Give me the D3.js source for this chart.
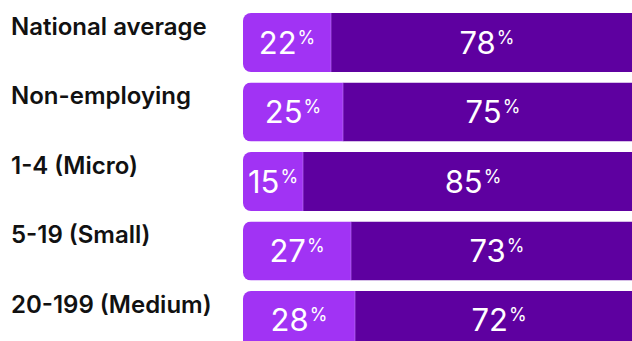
<!DOCTYPE html>
<html>
<head>
<meta charset="utf-8">
<script src="https://cdn.jsdelivr.net/npm/d3@7/dist/d3.min.js"></script>
<style>
  html, body { margin: 0; padding: 0; background: #ffffff; overflow: hidden; }
  svg { display: block; }
</style>
</head>
<body>
<svg id="chart" width="632" height="341"></svg>
<script>
// Business size groups and the split of each group into two shares (percent)
const categories = ["National average", "Non-employing", "1-4 (Micro)", "5-19 (Small)", "20-199 (Medium)"];
const firstShare = [22, 25, 15, 27, 28];
const secondShare = [78, 75, 85, 73, 72];

const colors = { first: "#a133f4", second: "#5e00a0", label: "#111111" };

const svg = d3.select("#chart");

const y = d3.scaleBand()
  .domain(categories)
  .range([13, 350])
  .paddingInner(0.151)
  .paddingOuter(0);

const x = d3.scaleLinear().domain([0, 100]).range([243, 643]);

const rows = categories.map((c, i) => ({ cat: c, a: firstShare[i], b: secondShare[i] }));

const clip = svg.append("defs");
rows.forEach((d, i) => {
  clip.append("clipPath").attr("id", "row-clip-" + i)
    .append("rect")
    .attr("x", x(0)).attr("y", y(d.cat))
    .attr("width", x(100) - x(0)).attr("height", y.bandwidth())
    .attr("rx", 8).attr("ry", 8);
});

const g = svg.append("g");

const row = g.selectAll("g.row").data(rows).join("g").attr("class", "row");

row.each(function (d, i) {
  const r = d3.select(this);
  const bars = r.append("g").attr("clip-path", "url(#row-clip-" + i + ")");
  bars.append("rect")
    .attr("x", x(0)).attr("y", y(d.cat))
    .attr("width", x(d.a) - x(0)).attr("height", y.bandwidth())
    .attr("fill", colors.first);
  bars.append("rect")
    .attr("x", x(d.a)).attr("y", y(d.cat))
    .attr("width", x(d.a + d.b) - x(d.a)).attr("height", y.bandwidth())
    .attr("fill", colors.second);
  bars.append("line")
    .attr("x1", x(d.a)).attr("x2", x(d.a))
    .attr("y1", y(d.cat)).attr("y2", y(d.cat) + y.bandwidth())
    .attr("stroke", "#c07af7").attr("stroke-width", 1).attr("stroke-opacity", 0.6);

  // Category name above-left of the bar
  r.append("text")
    .attr("x", 11).attr("y", y(d.cat) + 22)
    .attr("font-family", "Inter, 'Noto Sans', sans-serif")
    .attr("font-weight", 600).attr("font-size", 24)
    .attr("fill", colors.label)
    .text(d.cat);

  // Value labels centred in each segment
  [[0, d.a], [d.a, d.a + d.b]].forEach(([s, e]) => {
    const t = r.append("text")
      .attr("x", (x(s) + x(e)) / 2)
      .attr("y", y(d.cat) + y.bandwidth() / 2 + 11)
      .attr("text-anchor", "middle")
      .attr("font-family", "Inter, 'Noto Sans', sans-serif")
      .attr("font-weight", 400)
      .attr("fill", "#ffffff");
    t.append("tspan").attr("font-size", 31).text(e - s);
    t.append("tspan").attr("font-size", 18).attr("dy", -10).attr("dx", 1).text("%");
  });
});
</script>
</body>
</html>
